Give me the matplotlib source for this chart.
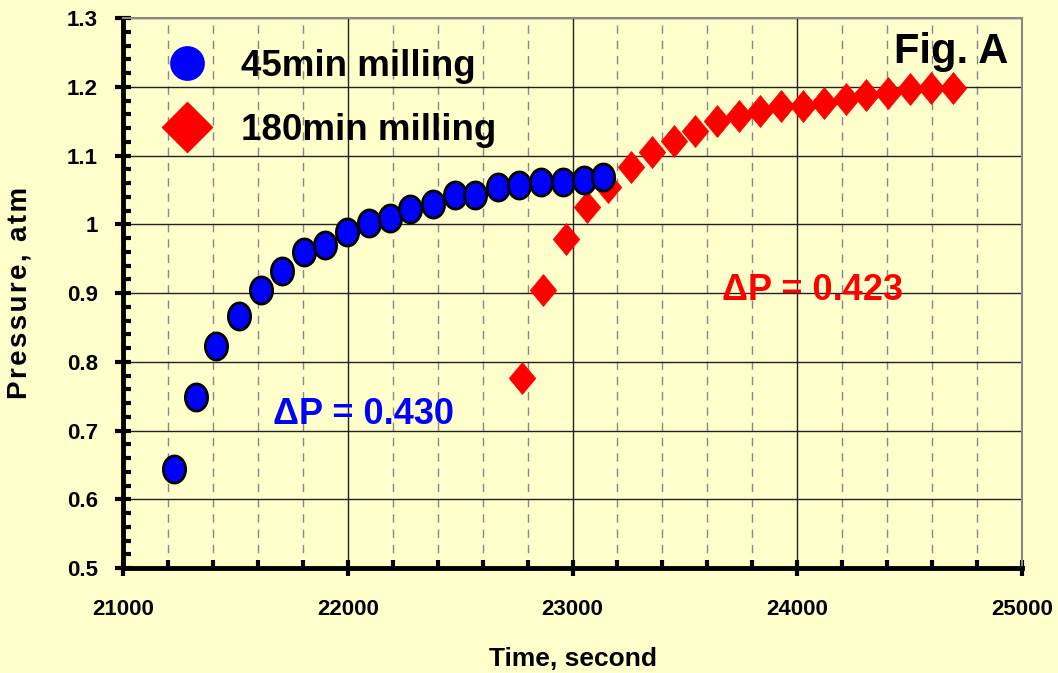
import numpy as np
import matplotlib
matplotlib.use("Agg")
import matplotlib.pyplot as plt
from matplotlib.path import Path
from matplotlib.lines import Line2D
from matplotlib.ticker import MultipleLocator, FuncFormatter

# ---- data ----
t45 = [21227, 21325, 21414, 21516, 21614, 21707, 21805, 21899, 21997, 22095, 22188,
       22277, 22379, 22477, 22566, 22669, 22762, 22860, 22958, 23051, 23136]
p45 = [0.644, 0.749, 0.823, 0.867, 0.904, 0.932, 0.960, 0.970, 0.989, 1.002, 1.009,
       1.022, 1.029, 1.043, 1.043, 1.054, 1.057, 1.061, 1.061, 1.064, 1.069]
t180 = [22775, 22869, 22971, 23065, 23158, 23260, 23354, 23452, 23545, 23643, 23741,
        23834, 23928, 24026, 24119, 24217, 24306, 24404, 24502, 24595, 24693]
p180 = [0.776, 0.904, 0.979, 1.025, 1.054, 1.083, 1.105, 1.121, 1.136, 1.150, 1.157,
        1.165, 1.172, 1.172, 1.176, 1.182, 1.188, 1.191, 1.197, 1.198, 1.198]
labels = ["45min milling", "180min milling"]

BG = "#FFFFCC"
plt.rcParams['font.family'] = ['Liberation Sans', 'DejaVu Sans']
plt.rcParams['font.weight'] = 'bold'

# custom markers (tall ellipse and tall diamond)
th = np.linspace(0, 2 * np.pi, 60)
ellipse = Path(np.column_stack([0.82 * np.cos(th), np.sin(th)]), closed=True)
diamond = Path([(0, 1), (0.83, 0), (0, -1), (-0.83, 0), (0, 1)], closed=True)
sq_diamond = Path([(0, 1), (1, 0), (0, -1), (-1, 0), (0, 1)], closed=True)

fig = plt.figure(figsize=(10.58, 6.73), dpi=100, facecolor=BG)
ax = fig.add_axes([0.1163, 0.156, 0.8497, 0.817], facecolor=BG)

ax.set_xlim(21000, 25000)
ax.set_ylim(0.5, 1.3)
ax.xaxis.set_major_locator(MultipleLocator(1000))
ax.xaxis.set_minor_locator(MultipleLocator(200))
ax.yaxis.set_major_locator(MultipleLocator(0.1))
ax.yaxis.set_minor_locator(MultipleLocator(0.02))
ax.yaxis.set_major_formatter(FuncFormatter(
    lambda v, p: "1" if abs(v - 1) < 1e-9 else f"{v:.1f}"))
ax.xaxis.set_major_formatter(FuncFormatter(lambda v, p: f"{int(round(v))}"))

ax.grid(True, which='major', axis='both', color='#222222', lw=1.0, zorder=0)
ax.grid(True, which='minor', axis='x', color='#888888', lw=1.0, ls=(0, (6, 5)), zorder=0)
ax.set_axisbelow(True)

ax.plot(t180, p180, ls='none', marker=diamond, ms=23, mfc='#FF0000', mec='#FF0000',
        mew=0.5, zorder=3)
ax.plot(t45, p45, ls='none', marker=ellipse, ms=19.5, mfc='#0000FF', mec='black',
        mew=2.0, zorder=4)

for s in ['left', 'bottom']:
    ax.spines[s].set_linewidth(3.5)
    ax.spines[s].set_color('black')
for s in ['top', 'right']:
    ax.spines[s].set_linewidth(1.5)
    ax.spines[s].set_color('#888888')

ax.tick_params(which='major', direction='inout', length=12, width=3, color='black',
               labelsize=16)
ax.tick_params(which='minor', direction='in', length=6, width=3, color='black')
ax.tick_params(axis='x', which='major', pad=16)
ax.tick_params(axis='y', which='major', pad=12)
for lab in ax.get_xticklabels() + ax.get_yticklabels():
    lab.set_fontweight('bold')

ax.set_xlabel("Time, second", fontsize=19, fontweight='bold', labelpad=20)
hs = "\u200a"
ax.set_ylabel(hs.join("Pressure, atm"), fontsize=20, fontweight='bold', labelpad=25)

ax.text(0.985, 0.975, "Fig. A", transform=ax.transAxes, ha='right', va='top',
        fontsize=30, fontweight='bold')
ax.text(24066, 0.904, "ΔP = 0.423", color='#FF0000', fontsize=26, fontweight='bold',
        ha='center', va='center')
ax.text(22072, 0.723, "ΔP = 0.430", color='#0000FF', fontsize=26, fontweight='bold',
        ha='center', va='center')

h1 = Line2D([], [], ls='none', marker='o', ms=24, mfc='#0000FF', mec='#0000FF')
h2 = Line2D([], [], ls='none', marker=sq_diamond, ms=36, mfc='#FF0000', mec='#FF0000')
leg = ax.legend([h1, h2], labels, loc='upper left', bbox_to_anchor=(0.006, 0.985),
                frameon=False, prop={'size': 26.5, 'weight': 'bold'},
                handletextpad=0.45, labelspacing=0.8, borderaxespad=0.2)

fig.savefig("out.png", dpi=100, facecolor=BG)
